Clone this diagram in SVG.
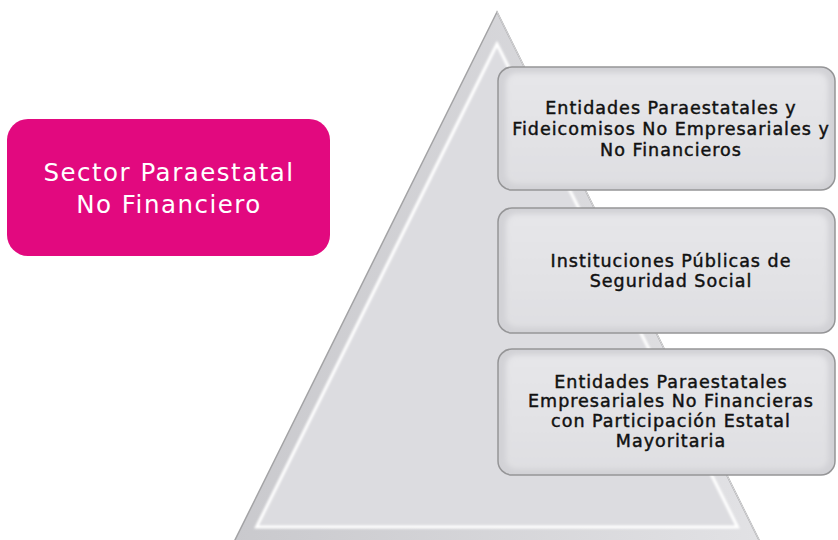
<svg xmlns="http://www.w3.org/2000/svg" width="838" height="540" viewBox="0 0 838 540">
  <defs>
    <style>
      .boxText { font-family: "DejaVu Sans", "Liberation Sans", sans-serif; font-size: 17.5px; fill: #111111; stroke: #111111; stroke-width: 0.45px; text-anchor: middle; letter-spacing: 1px; }
      .pinkText { font-family: "DejaVu Sans", "Liberation Sans", sans-serif; font-size: 24.5px; fill: #ffffff; text-anchor: middle; letter-spacing: 1.5px; }
      .boxOuter { fill: #d2d2d6; stroke: #959597; stroke-width: 1.5; }
      .boxInner { fill: url(#boxGrad); filter: url(#soft); }
    </style>
    <linearGradient id="boxGrad" x1="0" y1="0" x2="0" y2="1">
      <stop offset="0" stop-color="#e6e6e9"/>
      <stop offset="1" stop-color="#dfdfe2"/>
    </linearGradient>
    <linearGradient id="bandGrad" x1="0" y1="0" x2="1" y2="0">
      <stop offset="0" stop-color="#c9c9cd"/>
      <stop offset="1" stop-color="#e2e2e5"/>
    </linearGradient>
    <filter id="soft" x="-10%" y="-10%" width="120%" height="120%">
      <feGaussianBlur stdDeviation="2.5"/>
    </filter>
    <filter id="blur1" x="-10%" y="-10%" width="120%" height="120%">
      <feGaussianBlur stdDeviation="1.2"/>
    </filter>
  </defs>

  <rect width="838" height="540" fill="#ffffff"/>

  <!-- pyramid background -->
  <g id="pyramid">
    <path d="M497,12 L229,552 L765,552 Z" fill="url(#bandGrad)" stroke="#a3a3a5" stroke-width="1.5"/>
    <path d="M497,44 L256.5,527 L737.5,527 Z" fill="#dcdce0"/>
    <path d="M497,44 L256.5,527 L737.5,527 Z" fill="none" stroke="#ffffff" stroke-width="3" filter="url(#blur1)"/>
    <path d="M497,12 L765,552" fill="none" stroke="#d8d8da" stroke-width="1"/>
  </g>

  <g id="sector">
    <rect x="7" y="119" width="323" height="137" rx="21" fill="#e2097f"/>
    <text class="pinkText" x="169" y="181">Sector Paraestatal</text>
    <text class="pinkText" x="169" y="213">No Financiero</text>
  </g>

  <g id="entidades-no-empresariales">
    <rect class="boxOuter" x="498" y="67" width="337" height="123" rx="14"/>
    <rect class="boxInner" x="506" y="73" width="322" height="111" rx="10"/>
    <text class="boxText" x="671" y="114">Entidades Paraestatales y</text>
    <text class="boxText" x="671" y="135">Fideicomisos No Empresariales y</text>
    <text class="boxText" x="671" y="156">No Financieros</text>
  </g>

  <g id="seguridad-social">
    <rect class="boxOuter" x="498" y="208" width="337" height="125" rx="14"/>
    <rect class="boxInner" x="506" y="214" width="322" height="113" rx="10"/>
    <text class="boxText" x="671" y="266.5">Instituciones Públicas de</text>
    <text class="boxText" x="671" y="286.5">Seguridad Social</text>
  </g>

  <g id="entidades-empresariales">
    <rect class="boxOuter" x="498" y="349" width="337" height="126" rx="14"/>
    <rect class="boxInner" x="506" y="355" width="322" height="114" rx="10"/>
    <text class="boxText" x="671" y="387.5">Entidades Paraestatales</text>
    <text class="boxText" x="671" y="407">Empresariales No Financieras</text>
    <text class="boxText" x="671" y="426.5">con Participación Estatal</text>
    <text class="boxText" x="671" y="446.5">Mayoritaria</text>
  </g>

  <g id="connectors"/>
</svg>
